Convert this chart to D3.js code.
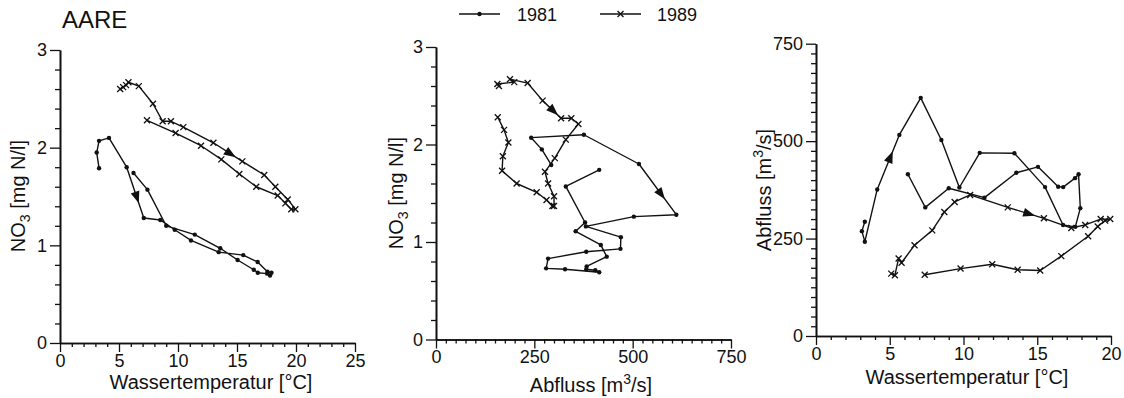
<!DOCTYPE html>
<html><head><meta charset="utf-8">
<script src="https://cdn.jsdelivr.net/npm/d3@7"></script>
<style>
body{margin:0;background:#fff}
svg{display:block}
text{font-family:"Liberation Sans",Arial,Helvetica,sans-serif;fill:#111}
</style>
</head><body>
<svg id="chart" width="1124" height="398"></svg>
<script>
// ---------------- data ----------------
const title = "AARE";
const years = ["1981", "1989"];

// 1981: water temperature [°C], discharge [m3/s], NO3 [mg N/l]
const temp1981 = [3.31, 3.11, 3.31, 4.15, 5.65, 7.10, 8.50, 9.72, 11.10, 13.45, 15.53, 16.75,
                  17.58, 17.92, 17.80, 17.56, 16.76, 16.42, 15.05, 13.58, 11.42, 9.00, 7.41, 6.23];
const flow1981 = [293, 269, 242, 376, 516, 611, 503, 381, 470, 469, 382, 285,
                  280, 328, 415, 405, 382, 383, 434, 419, 355, 379, 330, 415];
const no3_1981 = [1.79, 1.95, 2.07, 2.10, 1.80, 1.28, 1.26, 1.16, 1.05, 0.93, 0.90, 0.83,
                  0.73, 0.72, 0.69, 0.71, 0.72, 0.75, 0.85, 0.97, 1.11, 1.20, 1.57, 1.74];

// 1989
const temp1989 = [5.10, 5.35, 5.60, 5.80, 6.68, 7.88, 8.70, 9.40, 10.45, 13.00, 15.45, 17.31,
                  18.25, 19.30, 19.95, 19.60, 19.10, 18.45, 16.63, 15.20, 13.67, 11.95, 9.80, 7.37];
const flow1989 = [160, 156, 199, 188, 233, 271, 318, 344, 362, 330, 302, 277,
                  285, 300, 300, 296, 281, 256, 205, 168, 170, 184, 173, 157];
const no3_1989 = [2.60, 2.62, 2.64, 2.67, 2.63, 2.45, 2.27, 2.27, 2.21, 2.05, 1.86, 1.72,
                  1.60, 1.47, 1.37, 1.37, 1.43, 1.51, 1.60, 1.73, 1.88, 2.02, 2.15, 2.28];

// direction arrows: index of the segment start (per panel) for each year
const arrows1981 = [4, 4, 3];
const arrows1989 = [9, 5, 9];

// axis ticks
const tempTicks = [0, 5, 10, 15, 20, 25];
const tempTicks3 = [0, 5, 10, 15, 20];
const no3Ticks = [0, 1, 2, 3];
const flowTicks = [0, 250, 500, 750];

// ---------------- build ----------------
const series = [
  {year: years[0], marker: "dot", arrows: arrows1981,
   pts: temp1981.map((t, i) => ({temp: t, flow: flow1981[i], no3: no3_1981[i]}))},
  {year: years[1], marker: "cross", arrows: arrows1989,
   pts: temp1989.map((t, i) => ({temp: t, flow: flow1989[i], no3: no3_1989[i]}))}
];

const svg = d3.select("#chart");
const ink = "#111";

const panels = [
  {xKey: "temp", yKey: "no3", xDom: [0, 25], yDom: [0, 3], xR: [60, 355], yR: [343, 50],
   xTicks: tempTicks, yTicks: no3Ticks, xMinor: 1, yMinor: 0.2,
   xTitle: "Wassertemperatur [°C]", xTitleX: 211, xTitleY: 389,
   yTitle: "no3", yTitleX: 25, yTitleY: 196},
  {xKey: "flow", yKey: "no3", xDom: [0, 750], yDom: [0, 3], xR: [436, 731], yR: [339.5, 47],
   xTicks: flowTicks, yTicks: no3Ticks, xMinor: 25, yMinor: 0.2,
   xTitle: "flow", xTitleX: 591, xTitleY: 392,
   yTitle: "no3", yTitleX: 403, yTitleY: 193},
  {xKey: "temp", yKey: "flow", xDom: [0, 20], yDom: [0, 750], xR: [816, 1111], yR: [336, 43.7],
   xTicks: tempTicks3, yTicks: flowTicks, xMinor: 1, yMinor: 25,
   xTitle: "Wassertemperatur [°C]", xTitleX: 967, xTitleY: 384,
   yTitle: "flow", yTitleX: 771, yTitleY: 190}
];

function addTitle(sel, kind) {
  if (kind === "no3") {
    sel.append("tspan").text("NO");
    sel.append("tspan").attr("font-size", 14).attr("dy", 5).text("3");
    sel.append("tspan").attr("dy", -5).text(" [mg N/l]");
  } else if (kind === "flow") {
    sel.append("tspan").text("Abfluss [m");
    sel.append("tspan").attr("font-size", 14).attr("dy", -8).text("3");
    sel.append("tspan").attr("dy", 8).text("/s]");
  } else {
    sel.text(kind);
  }
}

function range(a, b, step) {
  const out = [];
  const n = Math.round((b - a) / step);
  for (let i = 0; i <= n; i++) out.push(+(a + i * step).toFixed(6));
  return out;
}

panels.forEach((p, pi) => {
  const x = d3.scaleLinear().domain(p.xDom).range(p.xR);
  const y = d3.scaleLinear().domain(p.yDom).range(p.yR);
  const g = svg.append("g");

  // minor ticks
  const xMinorVals = range(p.xDom[0], p.xDom[1], p.xMinor).filter(v => !p.xTicks.includes(v));
  const yMinorVals = range(p.yDom[0], p.yDom[1], p.yMinor).filter(v => !p.yTicks.some(t => Math.abs(t - v) < 1e-6));

  const gxm = g.append("g").attr("transform", `translate(0,${p.yR[0]})`)
    .call(d3.axisBottom(x).tickValues(xMinorVals).tickSize(4).tickSizeOuter(0).tickFormat(""));
  const gym = g.append("g").attr("transform", `translate(${p.xR[0]},0)`)
    .call(d3.axisLeft(y).tickValues(yMinorVals).tickSize(5).tickSizeOuter(0).tickFormat(""));

  const gx = g.append("g").attr("transform", `translate(0,${p.yR[0]})`)
    .call(d3.axisBottom(x).tickValues(p.xTicks).tickSize(9).tickSizeOuter(0).tickPadding(2).tickFormat(d3.format("d")));
  const gy = g.append("g").attr("transform", `translate(${p.xR[0]},0)`)
    .call(d3.axisLeft(y).tickValues(p.yTicks).tickSize(10).tickSizeOuter(0).tickPadding(3).tickFormat(d3.format("d")));

  [gxm, gym, gx, gy].forEach(a => {
    a.selectAll("path.domain").attr("stroke", ink).attr("stroke-width", 1.6);
    a.selectAll(".tick line").attr("stroke", ink).attr("stroke-width", 1.3);
    a.selectAll(".tick text").attr("font-size", 18).attr("fill", ink)
      .style("font-family", '"Liberation Sans",Arial,sans-serif');
  });

  // axis titles
  const xt = g.append("text").attr("x", p.xTitleX).attr("y", p.xTitleY)
    .attr("text-anchor", "middle").attr("font-size", 20);
  addTitle(xt, p.xTitle);
  const yt = g.append("text")
    .attr("transform", `translate(${p.yTitleX},${p.yTitleY}) rotate(-90)`)
    .attr("text-anchor", "middle").attr("font-size", 20);
  addTitle(yt, p.yTitle);

  // series
  series.forEach(s => {
    const line = d3.line().x(d => x(d[p.xKey])).y(d => y(d[p.yKey]));
    g.append("path").datum(s.pts).attr("d", line)
      .attr("fill", "none").attr("stroke", ink).attr("stroke-width", 1.4)
      .attr("stroke-linejoin", "round");
    const mk = g.append("g").selectAll("g").data(s.pts).join("g")
      .attr("transform", d => `translate(${x(d[p.xKey])},${y(d[p.yKey])})`);
    if (s.marker === "dot") {
      mk.append("circle").attr("r", 2.2).attr("fill", ink);
    } else {
      mk.append("path").attr("d", "M-3,-3L3,3M-3,3L3,-3")
        .attr("stroke", ink).attr("stroke-width", 1.3).attr("fill", "none");
    }
    // direction arrow
    const k = s.arrows[pi];
    const a = s.pts[k], b = s.pts[k + 1];
    const x0 = x(a[p.xKey]), y0 = y(a[p.yKey]), x1 = x(b[p.xKey]), y1 = y(b[p.yKey]);
    const t = 0.6;
    const cx = x0 + (x1 - x0) * t, cy = y0 + (y1 - y0) * t;
    const ang = Math.atan2(y1 - y0, x1 - x0) * 180 / Math.PI;
    g.append("path").attr("d", "M6,0L-6,-4.5L-6,4.5Z")
      .attr("transform", `translate(${cx},${cy}) rotate(${ang})`)
      .attr("fill", ink);
  });
});

// title
svg.append("text").attr("x", 62).attr("y", 28).attr("font-size", 24).text(title);

// legend
const legend = [
  {year: years[0], marker: "dot", x1: 459, x2: 500, tx: 517},
  {year: years[1], marker: "cross", x1: 600, x2: 641, tx: 657}
];
legend.forEach(l => {
  const g = svg.append("g");
  g.append("line").attr("x1", l.x1).attr("x2", l.x2).attr("y1", 14).attr("y2", 14)
    .attr("stroke", ink).attr("stroke-width", 1.3);
  const mx = (l.x1 + l.x2) / 2;
  if (l.marker === "dot") g.append("circle").attr("cx", mx).attr("cy", 14).attr("r", 2.2).attr("fill", ink);
  else g.append("path").attr("d", `M${mx - 3},11L${mx + 3},17M${mx - 3},17L${mx + 3},11`)
    .attr("stroke", ink).attr("stroke-width", 1.3);
  g.append("text").attr("x", l.tx).attr("y", 21).attr("font-size", 18).text(l.year);
});
</script>
</body></html>
